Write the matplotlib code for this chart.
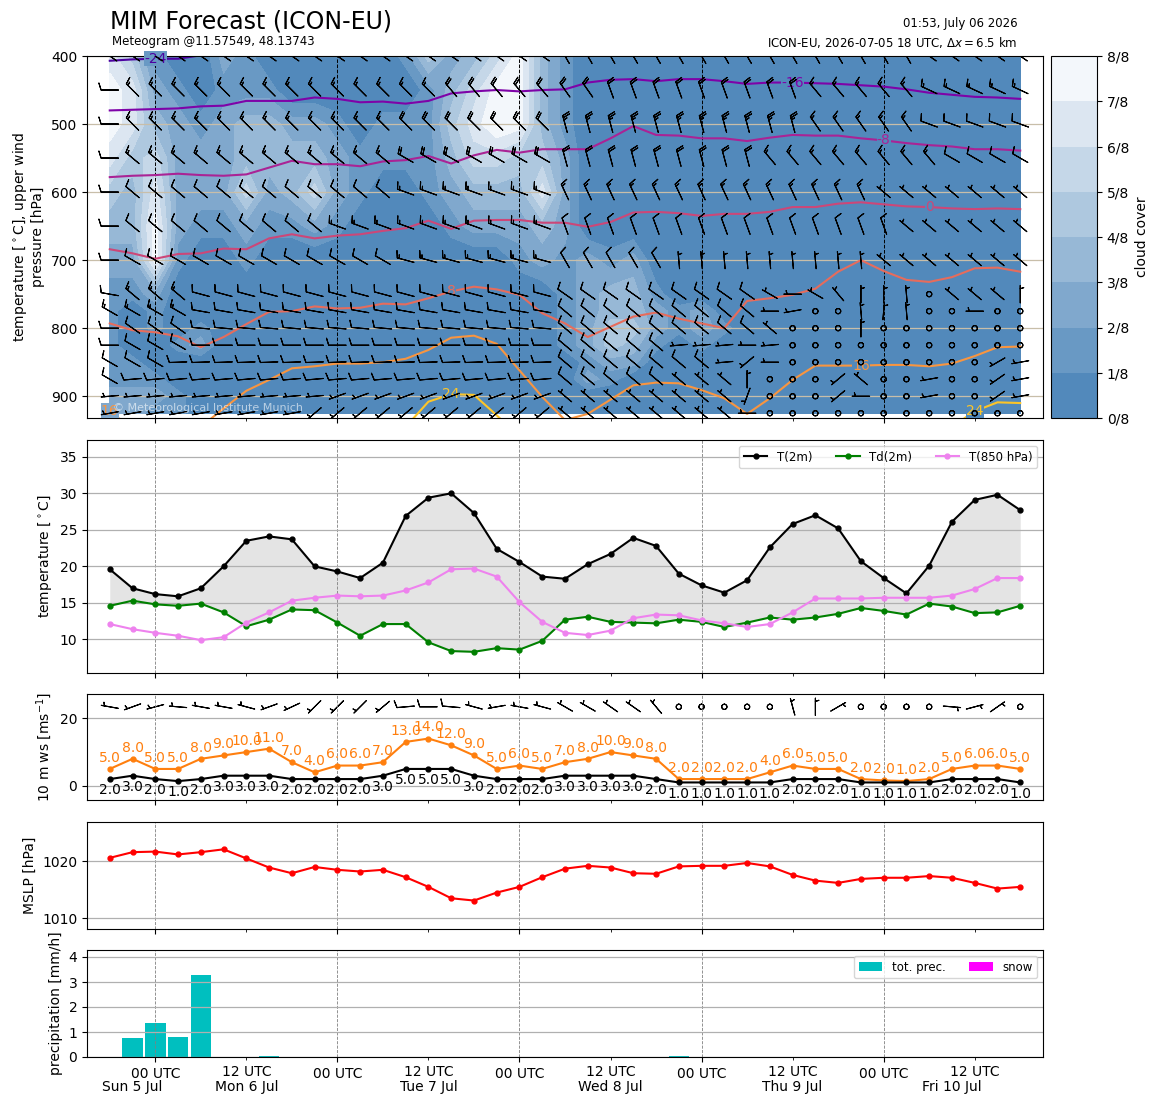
# -*- coding: utf-8 -*-
"""
MIM meteogram (ICON-EU) for one grid point, redrawn from the picture.
cloud cover + isotherms + upper winds, T, 10 m wind, MSLP, precipitation
"""
import datetime as dt
import numpy as np
import matplotlib
matplotlib.use("Agg")
import matplotlib.pyplot as plt
import matplotlib.dates as mdates
from matplotlib.colors import Normalize, ListedColormap, BoundaryNorm
from matplotlib.transforms import blended_transform_factory

mdates.set_epoch('2026-07-01T00:00:00')   # small date numbers for contouring
nan = np.nan

#===========================================================
#               data
#===========================================================
t_start = dt.datetime(2026, 7, 5, 18)   # first forecast step
n_t = 41                                # 3-hourly, up to Fri 10 Jul 18 UTC

plevs = [400, 450, 500, 550, 600, 650, 700, 750, 775, 800, 825, 850, 875, 900, 925]

# cloud cover in eighths (colour band seen at each grid point), one row per level
cloud_rows = [
    "641002100000014235731" + "0" * 20,
    "762101110000001357731" + "0" * 20,
    "763212332210111468731" + "0" * 20,
    "645222333321111355442" + "0" * 20,
    "436222523521001233362" + "0" * 20,
    "337211211210000122232" + "0" * 20,
    "227100100000000000121212" + "0" * 17,
    "112" + "0" * 17 + "12331" + "0" * 16,
    "101" + "0" * 17 + "1233212" + "0" * 14,
    "10101" + "0" * 15 + "12442121" + "0" * 13,
    "10012" + "0" * 15 + "1243101" + "0" * 14,
    "11" + "0" * 19 + "122" + "0" * 17,
    "111" + "0" * 18 + "21" + "0" * 18,
    "2221" + "0" * 37,
    "2211" + "0" * 37,
]

# pressure [hPa] of the isotherms at each step (nan = not present)
iso_m24 = [407, 405, 404, 404, 399, 390] + [nan] * 35
iso_m16 = [480, 479, 478, 477, 474, 473, 466, 466, 466, 461,
           463, 468, 467, 470, 466, 455, 452, 450, 452, 450,
           449, 439, 435, 434, 437, 434, 434, 437, 441, 439,
           439, 440, 441, 443, 445, 449, 454, 457, 460, 461, 463]
iso_m8 = [578, 576, 575, 573, 575, 576, 574, 564, 554, 559,
          559, 562, 555, 553, 547, 558, 546, 538, 542, 537,
          537, 537, 521, 503, 516, 517, 521, 521, 525, 520,
          516, 517, 517, 521, 524, 528, 531, 533, 537, 537, 539]
iso_0 = [684, 690, 698, 691, 690, 683, 684, 668, 662, 668,
         664, 662, 657, 653, 642, 654, 642, 641, 641, 645,
         645, 651, 644, 630, 629, 631, 635, 632, 632, 629,
         622, 622, 617, 615, 618, 621, 622, 624, 625, 624, 625]
iso_8 = [793, 803, 806, 812, 828, 813, 794, 776, 775, 768,
         771, 770, 764, 765, 756, 746, 739, 743, 751, 778,
         793, 813, 798, 783, 777, 786, 793, 800, 760, 756,
         751, 742, 717, 700, 716, 729, 732, 725, 712, 711, 717]
iso_16 = [924, 945, nan, nan, 945, 918, 892, 876, 859, 856,
          852, 852, 850, 845, 832, 814, 811, 823, 862, 901,
          935, 926, 905, 884, 880, 881, 891, 903, 926, 903,
          876, 855, 855, 855, 854, 854, 856, 852, 841, 828, 827]
iso_24 = [nan] * 13 + [945, 908, 897, 898, 928, 960] + [nan] * 18 + [945, 922, 909, 910]

# contour labels: (value, step, pressure)
iso_labels = [(-24, 2, 404), (-16, 30, 439), (-8, 34, 524), (0, 36, 622),
              (8, 15, 746), (16, 33, 855), (16, 0, 921), (24, 15, 896), (24, 38, 922)]

# upper winds: direction [deg] and speed [kt], one row per level
wdir = [
    [305] * 20 + [330] * 16 + [305] * 5,
    [270] + [315] * 14 + [320] * 5 + [325] * 2 + [340] * 9 + [320] * 5 + [295] * 5,
    [270] + [315] * 19 + [345] * 11 + [325] * 5 + [290] * 5,
    [270] + [310] * 12 + [300] * 7 + [345] * 9 + [320] * 8 + [300] * 4,
    [270] + [310] * 12 + [290] * 7 + [335] * 14 + [310] * 7,
    [270] + [310] * 9 + [290] * 10 + [340] * 15 + [310] * 6,
    [270] + [300] * 12 + [285] * 7 + [330] * 5 + [355] * 9 + [310] * 7,
    [280, 310, 310, 310] + [285] * 16 + [305] * 9 + [300, 270, 300, 320, 0, 0, 355, 0, 310, 310, 310, 0],
    [300] * 4 + [280] * 16 + [310] * 9 + [270, 260, 0, 0, 355, 5, 355, 0, 0, 270, 0, 0],
    [270] + [305] * 3 + [275] * 16 + [310] * 10 + [0] * 11,
    [270] + [300] * 3 + [270] * 16 + [310] * 5 + [265, 265, 265, 270, 265] + [0] * 11,
    [300] * 3 + [268] * 17 + [310] * 7 + [265, 230, 270] + [0] * 9 + [240, 260],
    [300] + [265] * 19 + [310] * 8 + [0, 0, 0, 0, 230, 310, 0, 0, 260, 0, 0, 235, 260],
    [265] * 10 + [250] * 10 + [310] * 8 + [200, 0, 0, 0, 230, 270, 0, 0, 260, 0, 0, 235, 260],
    [260] * 9 + [230] * 11 + [310] * 8 + [270] + [0] * 12,
]
wspd = [
    [15] * 20 + [20] * 16 + [15] * 5,
    [10] + [15] * 14 + [20] * 16 + [15] * 10,
    [10] + [15] * 12 + [20] * 7 + [25] * 11 + [15] * 5 + [10] * 5,
    [10] + [15] * 12 + [20] * 16 + [15] * 8 + [10] * 4,
    [10] * 13 + [15] * 21 + [5] * 7,
    [10] * 10 + [15] * 10 + [10] * 15 + [5] * 6,
    [10] * 13 + [15] * 7 + [10] * 5 + [5] * 16,
    [10, 15, 15, 15] + [10] * 25 + [5] * 7 + [0] + [5] * 4,
    [15] * 4 + [10] * 25 + [5, 5, 0, 0, 5, 5, 5, 0, 0, 5, 0, 0],
    [10] * 29 + [5, 0, 0, 0, 5] + [0] * 7,
    [10] * 25 + [5] * 5 + [0] * 11,
    [10] * 27 + [5] * 3 + [0] * 9 + [5, 5],
    [10] * 25 + [5] * 3 + [5, 0, 0, 0, 5, 5, 0, 0, 5, 0, 0, 5, 5],
    [5] * 28 + [5, 0, 0, 0, 5, 5, 0, 0, 5, 0, 0, 5, 5],
    [5] * 29 + [0] * 12,
]

t2m = [19.6, 17.0, 16.2, 15.9, 17.0, 20.0, 23.5, 24.1, 23.7, 20.0,
       19.3, 18.4, 20.5, 26.9, 29.4, 30.0, 27.3, 22.4, 20.6, 18.6,
       18.3, 20.3, 21.7, 23.9, 22.8, 19.0, 17.4, 16.4, 18.1, 22.6,
       25.8, 27.0, 25.2, 20.7, 18.4, 16.3, 20.1, 26.1, 29.1, 29.8, 27.7]
td2m = [14.6, 15.3, 14.8, 14.6, 14.9, 13.7, 11.8, 12.7, 14.1, 14.0,
        12.3, 10.5, 12.1, 12.1, 9.6, 8.4, 8.3, 8.8, 8.6, 9.8,
        12.7, 13.1, 12.4, 12.3, 12.2, 12.7, 12.4, 11.7, 12.3, 13.0,
        12.7, 13.0, 13.5, 14.3, 13.9, 13.4, 14.9, 14.5, 13.6, 13.7, 14.6]
t850 = [12.1, 11.4, 10.9, 10.5, 9.9, 10.3, 12.3, 13.7, 15.3, 15.7,
        16.0, 15.9, 16.0, 16.7, 17.8, 19.6, 19.7, 18.6, 15.1, 12.4,
        10.9, 10.6, 11.2, 12.9, 13.4, 13.3, 12.6, 12.2, 11.7, 12.1,
        13.7, 15.6, 15.6, 15.6, 15.7, 15.7, 15.7, 16.0, 16.9, 18.4, 18.4]

ws10 = [2, 3, 2, 1.4, 2, 3, 3, 3, 2, 2,
        2, 2, 3, 5, 5, 5, 3, 2, 2, 2,
        3, 3, 3, 3, 2, 1, 1, 1, 1, 1,
        2, 2, 2, 1, 1, 1, 1, 2, 2, 2, 1]
gust10 = [5, 8, 5, 5, 8, 9, 10, 11, 7, 4,
          6, 6, 7, 13, 14, 12, 9, 5, 6, 5,
          7, 8, 10, 9, 8, 2, 2, 2, 2, 4,
          6, 5, 5, 2, 1.6, 1.4, 2, 5, 6, 6, 5]
dir10 = [280, 250, 255, 275, 280, 280, 285, 250, 245,
         225, 225, 225, 230,
         265, 270, 275,
         285, 260, 280, 285,
         300, 300, 305, 305, 320,
         0, 0, 0, 0, 0,
         345, 0, 60,
         0, 0, 0, 0,
         95, 75, 55, 100]

mslp = [1020.6, 1021.6, 1021.7, 1021.2, 1021.6, 1022.1, 1020.5, 1018.9, 1017.9, 1019.0,
        1018.5, 1018.2, 1018.5, 1017.2, 1015.5, 1013.5, 1013.1, 1014.5, 1015.5, 1017.2,
        1018.7, 1019.2, 1018.9, 1017.9, 1017.8, 1019.1, 1019.2, 1019.2, 1019.7, 1019.1,
        1017.6, 1016.6, 1016.2, 1016.9, 1017.1, 1017.1, 1017.4, 1017.1, 1016.2, 1015.2, 1015.5]

precip = [0.0, 0.77, 1.37, 0.81, 3.29, 0.0, 0.0, 0.05, 0.0, 0.0,
          0.0, 0.0, 0.0, 0.0, 0.0, 0.0, 0.0, 0.0, 0.0, 0.0,
          0.0, 0.0, 0.0, 0.0, 0.0, 0.03, 0.0, 0.0, 0.0, 0.0,
          0.0, 0.0, 0.0, 0.0, 0.0, 0.0, 0.0, 0.0, 0.0, 0.0, 0.0]
snow = [0.0] * n_t

#===========================================================
#               styles
#===========================================================
cloud_colors = ['#5289bb', '#6999c4', '#80a8cd', '#97b8d6',
                '#aec8df', '#c5d7e8', '#dce6f1', '#f3f7fb']
kt_per_ms = 1.944
barb_len = 5     # barb size scales with length**2, ~17 px staff

a_time = [t_start + dt.timedelta(hours=3 * k) for k in range(n_t)]
x = mdates.date2num(a_time)
step = x[1] - x[0]

fig = plt.figure(figsize=(11.55, 11.05), dpi=100)
W, H = 1155.0, 1105.0


def box(left, top, right, bottom):
    return [left / W, 1 - bottom / H, (right - left) / W, (bottom - top) / H]


ax0 = fig.add_axes(box(87, 56, 1043, 418))
cax = fig.add_axes(box(1051, 56, 1097, 418))
ax1 = fig.add_axes(box(87, 440, 1043, 673), sharex=ax0)
ax2 = fig.add_axes(box(87, 694, 1043, 800), sharex=ax0)
ax3 = fig.add_axes(box(87, 822, 1043, 929), sharex=ax0)
ax4 = fig.add_axes(box(87, 950, 1043, 1057), sharex=ax0)

#===========================================================
#           upper air: cloud, isotherms, wind
#===========================================================
a_band = np.array([[int(c) for c in row] for row in cloud_rows])
a_cloud = np.minimum(np.where(a_band > 0, (a_band + 0.5) / 8.0, 0.0), 1.0)   # band centre

cloud_levels = np.linspace(0, 1, 9)
cf = ax0.contourf(x, plevs, a_cloud, levels=cloud_levels, colors=cloud_colors)

norm_t = Normalize(-32, 32)
isotherms = [(-24, iso_m24), (-16, iso_m16), (-8, iso_m8), (0, iso_0),
             (8, iso_8), (16, iso_16), (24, iso_24)]
for lev, prof in isotherms:
    ax0.plot(x, np.array(prof, dtype=float), color=plt.cm.plasma(norm_t(lev)), lw=1.5)
for lev, k, p in iso_labels:
    j = int(np.argmin(np.abs(np.array(plevs) - p)))
    ax0.text(x[k], p, f"{lev:d}", color=plt.cm.plasma(norm_t(lev)), fontsize=10,
             ha='center', va='center', zorder=3,
             bbox=dict(facecolor=cloud_colors[min(a_band[j, k], 7)], edgecolor='none', pad=0.2))

a_dir = np.deg2rad(np.array(wdir, dtype=float))
a_spd = np.array(wspd, dtype=float)
X, P = np.meshgrid(x, plevs)
ax0.barbs(X, P, -a_spd * np.sin(a_dir), -a_spd * np.cos(a_dir),
          length=barb_len, pivot='middle', linewidth=0.8, zorder=4)

ax0.set_ylim(932, 400)
ax0.set_yticks([400, 500, 600, 700, 800, 900])
ax0.set_ylabel("temperature [$^\\circ$C], upper wind\npressure [hPa]")
ax0.grid(axis='y', color='#c8bea9', lw=0.9)
ax0.grid(axis='x', which='major', color='k', ls='--', lw=0.7)
ax0.text(0.027, 0.018, "\u00a9 Meteorological Institute Munich", transform=ax0.transAxes,
         color='white', alpha=0.6, fontsize=8, zorder=5)

cb = fig.colorbar(plt.cm.ScalarMappable(cmap=ListedColormap(cloud_colors),
                                        norm=BoundaryNorm(cloud_levels, 8)), cax=cax)
cb.set_ticks(cloud_levels)
cb.set_ticklabels([f"{k}/8" for k in range(9)])
cb.set_label("cloud cover")

#===========================================================
#           temperature
#===========================================================
ax1.fill_between(x, t2m, td2m, color='lightgrey', alpha=0.6, lw=0)
ax1.plot(x, t2m, 'k.-', ms=7, lw=1.5, label='T(2m)')
ax1.plot(x, td2m, '.-', color='green', ms=7, lw=1.5, label='Td(2m)')
ax1.plot(x, t850, '.-', color='violet', ms=7, lw=1.5, label='T(850 hPa)')
ax1.set_ylim(5.4, 37.3)
ax1.set_yticks([10, 15, 20, 25, 30, 35])
ax1.set_ylabel("temperature [$^\\circ$C]")
ax1.legend(loc='upper right', ncol=3, fontsize=8.5)

#===========================================================
#           10 m wind
#===========================================================
a_d10 = np.deg2rad(np.array(dir10, dtype=float))
a_s10 = np.array(ws10, dtype=float) * kt_per_ms
ax2.barbs(x, np.full(n_t, 23.4), -a_s10 * np.sin(a_d10), -a_s10 * np.cos(a_d10),
          length=barb_len, pivot='middle', linewidth=0.8)
ax2.plot(x, gust10, '.-', color='C1', ms=7, lw=1.5)
ax2.plot(x, ws10, 'k.-', ms=7, lw=1.5)
for xi, v in zip(x, gust10):
    ax2.annotate(f"{np.round(v):.1f}", (xi, v), xytext=(0, 3), textcoords='offset points',
                 ha='center', va='bottom', color='C1', fontsize=10)
for xi, v in zip(x, ws10):
    ax2.annotate(f"{np.round(v):.1f}", (xi, v), xytext=(0, -3), textcoords='offset points',
                 ha='center', va='top', color='k', fontsize=10)
ax2.set_ylim(-4.2, 27.2)
ax2.set_yticks([0, 20])
ax2.set_ylabel("10 m ws [ms$^{-1}$]")

#===========================================================
#           MSLP and precipitation
#===========================================================
ax3.plot(x, mslp, 'r.-', ms=7, lw=1.5)
ax3.set_ylim(1008.1, 1026.9)
ax3.set_yticks([1010, 1020])
ax3.set_ylabel("MSLP [hPa]")

ax4.bar(x, precip, width=0.9 * step, color='c', label='tot. prec.')
ax4.bar(x, snow, width=0.9 * step, color='magenta', label='snow')
ax4.set_ylim(0, 4.28)
ax4.set_yticks([0, 1, 2, 3, 4])
ax4.set_ylabel("precipitation [mm/h]")
ax4.legend(loc='upper right', ncol=2, fontsize=8.5)

for ax in (ax1, ax2, ax3, ax4):
    ax.grid(axis='y', color='#b0b0b0', lw=0.9)
    ax.grid(axis='x', which='major', color='gray', ls='--', lw=0.6)

#===========================================================
#           time axis
#===========================================================
ax4.set_xlim(x[0] - step, x[-1] + step)
ax4.xaxis.set_major_locator(mdates.HourLocator(byhour=0))
ax4.xaxis.set_minor_locator(mdates.HourLocator(byhour=12))
ax4.xaxis.set_major_formatter(mdates.DateFormatter('%H UTC'))
ax4.xaxis.set_minor_formatter(mdates.DateFormatter('%H UTC'))
for ax in (ax0, ax1, ax2, ax3):
    ax.tick_params(axis='x', which='both', labelbottom=False)

# day names centred on the part of each day that is shown
trans = blended_transform_factory(ax4.transData, ax4.transAxes)
t_end = a_time[-1]
day = dt.datetime(t_start.year, t_start.month, t_start.day)
while day < t_end:
    d0 = max(day, t_start)
    d1 = min(day + dt.timedelta(days=1), t_end)
    mid = d0 + (d1 - d0) / 2
    ax4.text(mdates.date2num(mid), -0.28, f"{day:%a} {day.day} {day:%b}",
             transform=trans, ha='center', va='center', fontsize=10)
    day += dt.timedelta(days=1)

#===========================================================
#           titles
#===========================================================
fig.text(110 / W, 1 - 21 / H, "MIM Forecast (ICON-EU)", fontsize=17, va='center')
fig.text(112 / W, 1 - 42 / H, "Meteogram @11.57549, 48.13743", fontsize=8.5, va='center')
fig.text(1018 / W, 1 - 23 / H, "01:53, July 06 2026", fontsize=8.5, va='center', ha='right')
fig.text(1018 / W, 1 - 42 / H, "ICON-EU, 2026-07-05 18 UTC, $\\Delta x = 6.5$ km",
         fontsize=8.5, va='center', ha='right')

fig.savefig("out.png", dpi=100)
